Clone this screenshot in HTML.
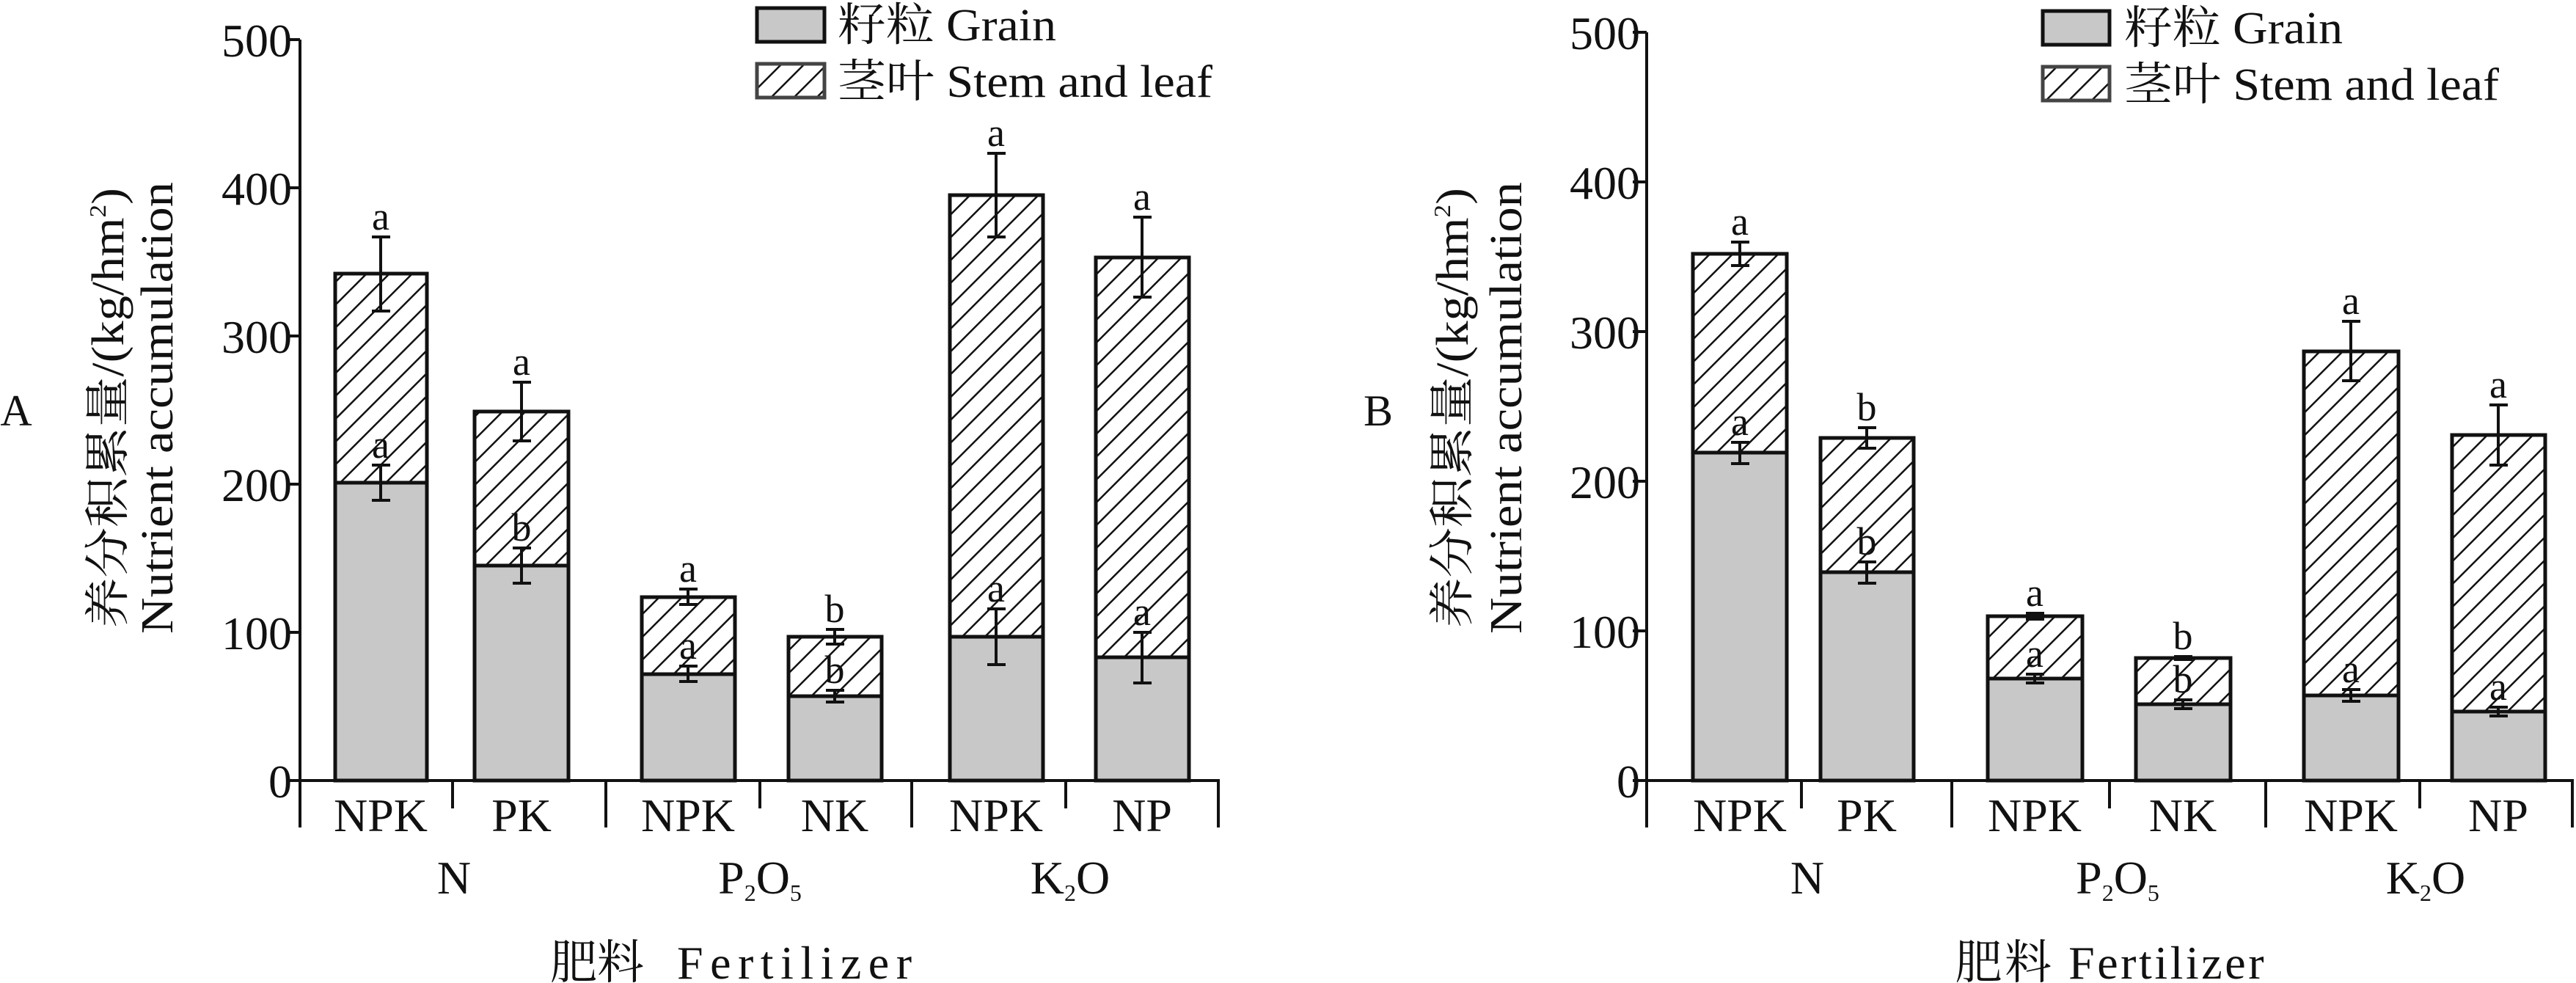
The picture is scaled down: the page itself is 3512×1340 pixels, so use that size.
<!DOCTYPE html>
<html><head><meta charset="utf-8"><style>
html,body{margin:0;padding:0;background:#fff;}
svg{display:block;}
text{font-family:"Liberation Serif","Noto Serif CJK SC","Noto Sans CJK SC",serif;fill:#111;}
</style></head><body>
<svg width="3512" height="1340" viewBox="0 0 3512 1340" xmlns="http://www.w3.org/2000/svg">
<defs>
<pattern id="h" patternUnits="userSpaceOnUse" width="22" height="22" patternTransform="rotate(45)">
<rect width="22" height="22" fill="#fff"/>
<line x1="0" y1="0" x2="0" y2="22" stroke="#111" stroke-width="5"/>
</pattern>
</defs>

<!-- ===== Panel A ===== -->
<g stroke="#111" stroke-width="4" fill="none">
<line x1="409" y1="54" x2="409" y2="1128"/>
<line x1="407" y1="1064" x2="1663" y2="1064"/>
<line x1="390" y1="54" x2="409" y2="54"/>
<line x1="390" y1="256" x2="409" y2="256"/>
<line x1="390" y1="458" x2="409" y2="458"/>
<line x1="390" y1="660" x2="409" y2="660"/>
<line x1="390" y1="862" x2="409" y2="862"/>
<line x1="390" y1="1064" x2="409" y2="1064"/>
<line x1="617" y1="1064" x2="617" y2="1102"/>
<line x1="826" y1="1064" x2="826" y2="1128"/>
<line x1="1036" y1="1064" x2="1036" y2="1102"/>
<line x1="1243" y1="1064" x2="1243" y2="1128"/>
<line x1="1453" y1="1064" x2="1453" y2="1102"/>
<line x1="1661" y1="1064" x2="1661" y2="1128"/>
</g>
<g font-size="64" text-anchor="end">
<text x="398" y="77">500</text><text x="398" y="279">400</text><text x="398" y="481">300</text>
<text x="398" y="683">200</text><text x="398" y="885">100</text><text x="398" y="1087">0</text>
</g>
<g stroke="#111" stroke-width="5">
<rect x="457" y="373" width="125" height="285" fill="url(#h)"/><rect x="457" y="658" width="125" height="406" fill="#c8c8c8"/>
<rect x="647" y="561" width="128" height="210" fill="url(#h)"/><rect x="647" y="771" width="128" height="293" fill="#c8c8c8"/>
<rect x="875" y="814" width="127" height="105" fill="url(#h)"/><rect x="875" y="919" width="127" height="145" fill="#c8c8c8"/>
<rect x="1075" y="868" width="127" height="81" fill="url(#h)"/><rect x="1075" y="949" width="127" height="115" fill="#c8c8c8"/>
<rect x="1295" y="266" width="127" height="602" fill="url(#h)"/><rect x="1295" y="868" width="127" height="196" fill="#c8c8c8"/>
<rect x="1494" y="351" width="127" height="545" fill="url(#h)"/><rect x="1494" y="896" width="127" height="168" fill="#c8c8c8"/>
</g>
<g stroke="#111" stroke-width="4" fill="none">
<path d="M519 323V424M507 323H532M507 424H532 M519 634V682M507 634H532M507 682H532"/>
<path d="M711 521V601M699 521H724M699 601H724 M711 747V795M699 747H724M699 795H724"/>
<path d="M938 803V824M926 803H951M926 824H951 M938 908V929M926 908H951M926 929H951"/>
<path d="M1138 858V878M1126 858H1151M1126 878H1151 M1138 941V957M1126 941H1151M1126 957H1151"/>
<path d="M1358 209V323M1346 209H1371M1346 323H1371 M1358 830V906M1346 830H1371M1346 906H1371"/>
<path d="M1557 296V405M1545 296H1570M1545 405H1570 M1557 862V931M1545 862H1570M1545 931H1570"/>
</g>
<g font-size="54" text-anchor="middle">
<text x="519" y="313">a</text><text x="519" y="624">a</text>
<text x="711" y="511">a</text><text x="711" y="737">b</text>
<text x="938" y="793">a</text><text x="938" y="898">a</text>
<text x="1138" y="848">b</text><text x="1138" y="931">b</text>
<text x="1358" y="199">a</text><text x="1358" y="820">a</text>
<text x="1557" y="286">a</text><text x="1557" y="852">a</text>
</g>
<g font-size="64" text-anchor="middle">
<text x="519" y="1133">NPK</text><text x="711" y="1133">PK</text><text x="938" y="1133">NPK</text>
<text x="1138" y="1133">NK</text><text x="1358" y="1133">NPK</text><text x="1557" y="1133">NP</text>
<text x="619" y="1218">N</text>
<text x="1036" y="1218">P<tspan font-size="32" dy="10">2</tspan><tspan dy="-10">O</tspan><tspan font-size="32" dy="10">5</tspan></text>
<text x="1459" y="1218">K<tspan font-size="32" dy="10">2</tspan><tspan dy="-10">O</tspan></text>
</g>
<g font-size="64"><text x="750" y="1334">肥料</text><text x="1243" y="1334" text-anchor="end" textLength="320" lengthAdjust="spacing">Fertilizer</text></g>
<text x="22" y="580" font-size="60" text-anchor="middle">A</text>
<g font-size="62" text-anchor="middle">
<text transform="translate(168,556) rotate(-90)" textLength="600" lengthAdjust="spacingAndGlyphs">养分积累量/(kg/hm<tspan font-size="32" dy="-24">2</tspan><tspan dy="24">)</tspan></text>
<text transform="translate(235,556) rotate(-90)" textLength="616" lengthAdjust="spacingAndGlyphs">Nutrient accumulation</text>
</g>
<rect x="1032" y="11" width="92" height="46" fill="#c8c8c8" stroke="#111" stroke-width="5"/>
<rect x="1032" y="87" width="92" height="46" fill="url(#h)" stroke="#444" stroke-width="5"/>
<g font-size="62"><text x="1142" y="55" textLength="298" lengthAdjust="spacingAndGlyphs">籽粒 Grain</text><text x="1142" y="132" textLength="511" lengthAdjust="spacingAndGlyphs">茎叶 Stem and leaf</text></g>

<!-- ===== Panel B ===== -->
<g stroke="#111" stroke-width="4" fill="none">
<line x1="2245" y1="44" x2="2245" y2="1128"/>
<line x1="2243" y1="1064" x2="3509" y2="1064"/>
<line x1="2226" y1="44" x2="2245" y2="44"/>
<line x1="2226" y1="248" x2="2245" y2="248"/>
<line x1="2226" y1="452" x2="2245" y2="452"/>
<line x1="2226" y1="656" x2="2245" y2="656"/>
<line x1="2226" y1="860" x2="2245" y2="860"/>
<line x1="2226" y1="1064" x2="2245" y2="1064"/>
<line x1="2456" y1="1064" x2="2456" y2="1102"/>
<line x1="2661" y1="1064" x2="2661" y2="1128"/>
<line x1="2876" y1="1064" x2="2876" y2="1102"/>
<line x1="3089" y1="1064" x2="3089" y2="1128"/>
<line x1="3299" y1="1064" x2="3299" y2="1102"/>
<line x1="3507" y1="1064" x2="3507" y2="1128"/>
</g>
<g font-size="64" text-anchor="end">
<text x="2236" y="67">500</text><text x="2236" y="271">400</text><text x="2236" y="475">300</text>
<text x="2236" y="679">200</text><text x="2236" y="883">100</text><text x="2236" y="1087">0</text>
</g>
<g stroke="#111" stroke-width="5">
<rect x="2308" y="346" width="128" height="271" fill="url(#h)"/><rect x="2308" y="617" width="128" height="447" fill="#c8c8c8"/>
<rect x="2482" y="597" width="127" height="183" fill="url(#h)"/><rect x="2482" y="780" width="127" height="284" fill="#c8c8c8"/>
<rect x="2710" y="840" width="129" height="85" fill="url(#h)"/><rect x="2710" y="925" width="129" height="139" fill="#c8c8c8"/>
<rect x="2912" y="897" width="129" height="63" fill="url(#h)"/><rect x="2912" y="960" width="129" height="104" fill="#c8c8c8"/>
<rect x="3141" y="479" width="129" height="469" fill="url(#h)"/><rect x="3141" y="948" width="129" height="116" fill="#c8c8c8"/>
<rect x="3343" y="593" width="127" height="377" fill="url(#h)"/><rect x="3343" y="970" width="127" height="94" fill="#c8c8c8"/>
</g>
<g stroke="#111" stroke-width="4" fill="none">
<path d="M2372 330V362M2360 330H2385M2360 362H2385 M2372 603V632M2360 603H2385M2360 632H2385"/>
<path d="M2545 583V611M2533 583H2558M2533 611H2558 M2545 766V795M2533 766H2558M2533 795H2558"/>
<path d="M2774 836V844M2762 836H2787M2762 844H2787 M2774 919V931M2762 919H2787M2762 931H2787"/>
<path d="M2976 895V899M2964 895H2989M2964 899H2989 M2976 954V966M2964 954H2989M2964 966H2989"/>
<path d="M3205 438V519M3193 438H3218M3193 519H3218 M3205 940V956M3193 940H3218M3193 956H3218"/>
<path d="M3406 552V634M3394 552H3419M3394 634H3419 M3406 964V976M3394 964H3419M3394 976H3419"/>
</g>
<g font-size="54" text-anchor="middle">
<text x="2372" y="320">a</text><text x="2372" y="593">a</text>
<text x="2545" y="573">b</text><text x="2545" y="756">b</text>
<text x="2774" y="826">a</text><text x="2774" y="909">a</text>
<text x="2976" y="885">b</text><text x="2976" y="944">b</text>
<text x="3205" y="428">a</text><text x="3205" y="930">a</text>
<text x="3406" y="542">a</text><text x="3406" y="954">a</text>
</g>
<g font-size="64" text-anchor="middle">
<text x="2372" y="1133">NPK</text><text x="2545" y="1133">PK</text><text x="2774" y="1133">NPK</text>
<text x="2976" y="1133">NK</text><text x="3205" y="1133">NPK</text><text x="3406" y="1133">NP</text>
<text x="2464" y="1218">N</text>
<text x="2887" y="1218">P<tspan font-size="32" dy="10">2</tspan><tspan dy="-10">O</tspan><tspan font-size="32" dy="10">5</tspan></text>
<text x="3307" y="1218">K<tspan font-size="32" dy="10">2</tspan><tspan dy="-10">O</tspan></text>
<text x="2876" y="1334" textLength="421" lengthAdjust="spacing">肥料  Fertilizer</text>
</g>
<text x="1879" y="580" font-size="60" text-anchor="middle">B</text>
<g font-size="62" text-anchor="middle">
<text transform="translate(2001,556) rotate(-90)" textLength="600" lengthAdjust="spacingAndGlyphs">养分积累量/(kg/hm<tspan font-size="32" dy="-24">2</tspan><tspan dy="24">)</tspan></text>
<text transform="translate(2074,556) rotate(-90)" textLength="616" lengthAdjust="spacingAndGlyphs">Nutrient accumulation</text>
</g>
<rect x="2785" y="15" width="91" height="46" fill="#c8c8c8" stroke="#111" stroke-width="5"/>
<rect x="2785" y="91" width="91" height="46" fill="url(#h)" stroke="#444" stroke-width="5"/>
<g font-size="62"><text x="2896" y="59" textLength="298" lengthAdjust="spacingAndGlyphs">籽粒 Grain</text><text x="2896" y="136" textLength="511" lengthAdjust="spacingAndGlyphs">茎叶 Stem and leaf</text></g>
</svg>
</body></html>
